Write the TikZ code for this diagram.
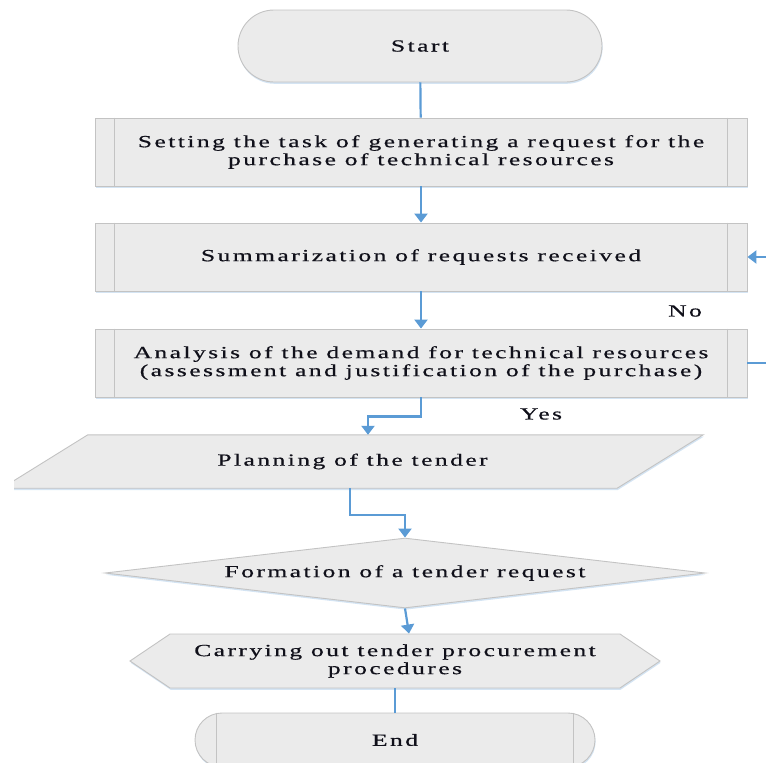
\documentclass[tikz,border=0pt]{standalone}
\usepackage{fontspec}
\setmainfont{Liberation Serif}
\newfontfamily\wfont{Liberation Serif}[FakeStretch=1.5,LetterSpace=14.5,FakeBold=0.6]
\usetikzlibrary{arrows.meta,shapes.geometric,shapes.misc,shapes.symbols,shadows}
\definecolor{boxfill}{HTML}{EBEBEB}
\definecolor{boxline}{HTML}{C3C3C3}
\definecolor{arrowc}{HTML}{5B9BD5}
\definecolor{txt}{HTML}{10101A}
\definecolor{shad}{HTML}{C9DDF0}
\begin{document}
\begin{tikzpicture}[x=1pt,y=-1pt,
  tx/.style={font=\wfont\fontsize{17}{18}\selectfont, text=txt, align=center},
  shp/.style={fill=boxfill, draw=boxline, line width=0.9pt,
    drop shadow={shadow xshift=0.6pt, shadow yshift=-1.8pt, fill=shad, opacity=0.8}},
  proc/.style={shp, rectangle, minimum width=652pt, minimum height=68pt, inner sep=0pt, tx},
  sideline/.style={draw=boxline, line width=0.9pt},
  conn/.style={draw=arrowc, line width=2.2pt},
  thinconn/.style={draw=arrowc, line width=1.2pt},
  arr/.style={conn, -{Triangle[width=13pt,length=9pt]}}
]
\useasboundingbox (0,0) rectangle (766,763);

% Start
\node[shp, rounded rectangle, minimum width=364pt, minimum height=72pt, inner sep=0pt, tx] (start) at (420,46) {Start};

% process boxes
\node[proc] (b1) at (421,152) {Setting the task of generating a request for the\\purchase of technical resources};
\node[proc] (b2) at (421,257) {Summarization of requests received};
\node[proc] (b3) at (421,363) {Analysis of the demand for technical resources\\(assessment and justification of the purchase)};
\foreach \b in {b1,b2,b3}{
  \draw[sideline] ([xshift=20pt]\b.north west) -- ([xshift=20pt]\b.south west);
  \draw[sideline] ([xshift=-20pt]\b.north east) -- ([xshift=-20pt]\b.south east);
}

% parallelogram (cropped at the left)
\node[rectangle, minimum width=615pt, minimum height=53pt, inner sep=0pt, tx]
  (plan) at (352.5,461.5) {};
\begin{scope}
\clip (14,0) rectangle (766,763);
\draw[shp] ([xshift=43pt]plan.north west) -- ([xshift=43pt]plan.north east)
  -- ([xshift=-43pt]plan.south east) -- ([xshift=-43pt]plan.south west) -- cycle;
\end{scope}
\node[tx] (plantext) at (plan.center) {Planning of the tender};

% decision
\node[shp, diamond, aspect=8.57, minimum width=600pt, minimum height=70pt, inner sep=0pt, tx]
  (diam) at (405,573) {Formation of a tender request};

% preparation (hexagon)
\node[shp, signal, signal to=west and east, signal pointer angle=68,
  minimum width=530pt, minimum height=54pt, inner sep=0pt, tx]
  (hex) at (395,661) {Carrying out tender procurement\\procedures};

% End
\node[shp, rounded rectangle, minimum width=400pt, minimum height=54pt, inner sep=0pt, tx] (endn) at (395,740) {End};
\draw[sideline] ([xshift=22pt]endn.west |- endn.north) -- ([xshift=22pt]endn.west |- endn.south);
\draw[sideline] ([xshift=-22pt]endn.east |- endn.north) -- ([xshift=-22pt]endn.east |- endn.south);

% labels
\node[tx] (no) at (685,311) {No};
\node[tx] (yes) at (541,414) {Yes};

% connectors
\draw[conn] (start) -- (b1);
\draw[arr] (b1) -- (b2);
\draw[arr] (b2) -- (b3);
\coordinate (fbA) at (766,363);
\coordinate (fbB) at (766,257);
\draw[conn] (b3.east) -- (fbA);
\draw[arr] (fbB) -- (b2.east);
\draw[arr] (b3.south) -- ++(0,19) -| ([xshift=15.5pt]plan.north);
\draw[arr] ([xshift=-2.5pt]plan.south) -- ++(0,27) -| (diam.north);
\draw[arr] (diam.south) -- ([xshift=14pt]hex.north);
\draw[thinconn] (hex.south) -- (endn.north);
\end{tikzpicture}
\end{document}
